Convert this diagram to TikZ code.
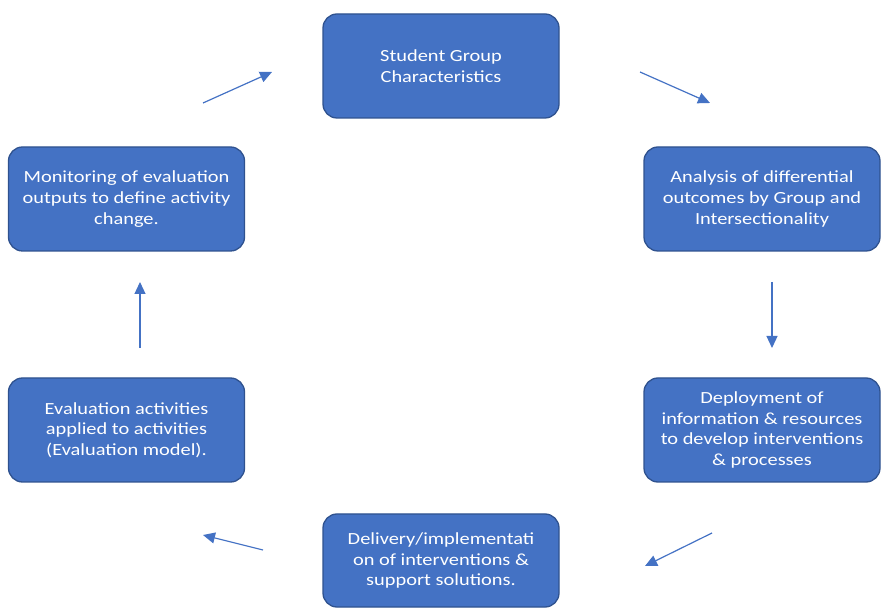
\documentclass[tikz,border=0pt]{standalone}
\usepackage{fontspec}
\setmainfont{Carlito}[FakeStretch=1.2]
\usetikzlibrary{arrows.meta}
\definecolor{cycleblue}{HTML}{4472C4}
\definecolor{cycleedge}{HTML}{2F528F}
\begin{document}
\begin{tikzpicture}[x=1pt,y=1pt,
  every node/.style={font=\fontsize{17}{20.6}\selectfont},
  cyclebox/.style={draw=cycleedge,line width=1.3pt,fill=cycleblue,rounded corners=14pt,
    text=white,align=center,minimum width=236pt,minimum height=104pt,inner sep=0pt},
  cyclearrow/.style={cycleblue,line width=1.2pt,-{Triangle[length=12pt,width=11pt]}}]
\useasboundingbox (0,0) rectangle (893,610);
\node[cyclebox] (sgc) at (441,544) {Student Group\\Characteristics};
\node[cyclebox] (ana) at (762,411) {Analysis of differential\\outcomes by Group and\\Intersectionality};
\node[cyclebox] (dep) at (762,180) {Deployment of\\information \& resources\\to develop interventions\\\& processes};
\node[cyclebox,minimum height=93pt] (del) at (441,49.5) {Delivery/implementati\\on of interventions \&\\support solutions.};
\node[cyclebox] (eva) at (126.5,180) {Evaluation activities\\applied to activities\\(Evaluation model).};
\node[cyclebox] (mon) at (126.5,411) {Monitoring of evaluation\\outputs to define activity\\change.};
% free arrow ends between the boxes
\coordinate (a1s) at (203,507); \coordinate (a1e) at (272,538);
\coordinate (a2s) at (640,538); \coordinate (a2e) at (710,507);
\coordinate (a3s) at (772,328); \coordinate (a3e) at (772,262);
\coordinate (a4s) at (712,77);  \coordinate (a4e) at (645,44);
\coordinate (a5s) at (263,60);  \coordinate (a5e) at (203,75);
\coordinate (a6s) at (140,262); \coordinate (a6e) at (140,328);
\draw[cyclearrow] (a1s) -- (a1e);
\draw[cyclearrow] (a2s) -- (a2e);
\draw[cyclearrow] (a3s) -- (a3e);
\draw[cyclearrow] (a4s) -- (a4e);
\draw[cyclearrow] (a5s) -- (a5e);
\draw[cyclearrow] (a6s) -- (a6e);
\end{tikzpicture}
\end{document}
